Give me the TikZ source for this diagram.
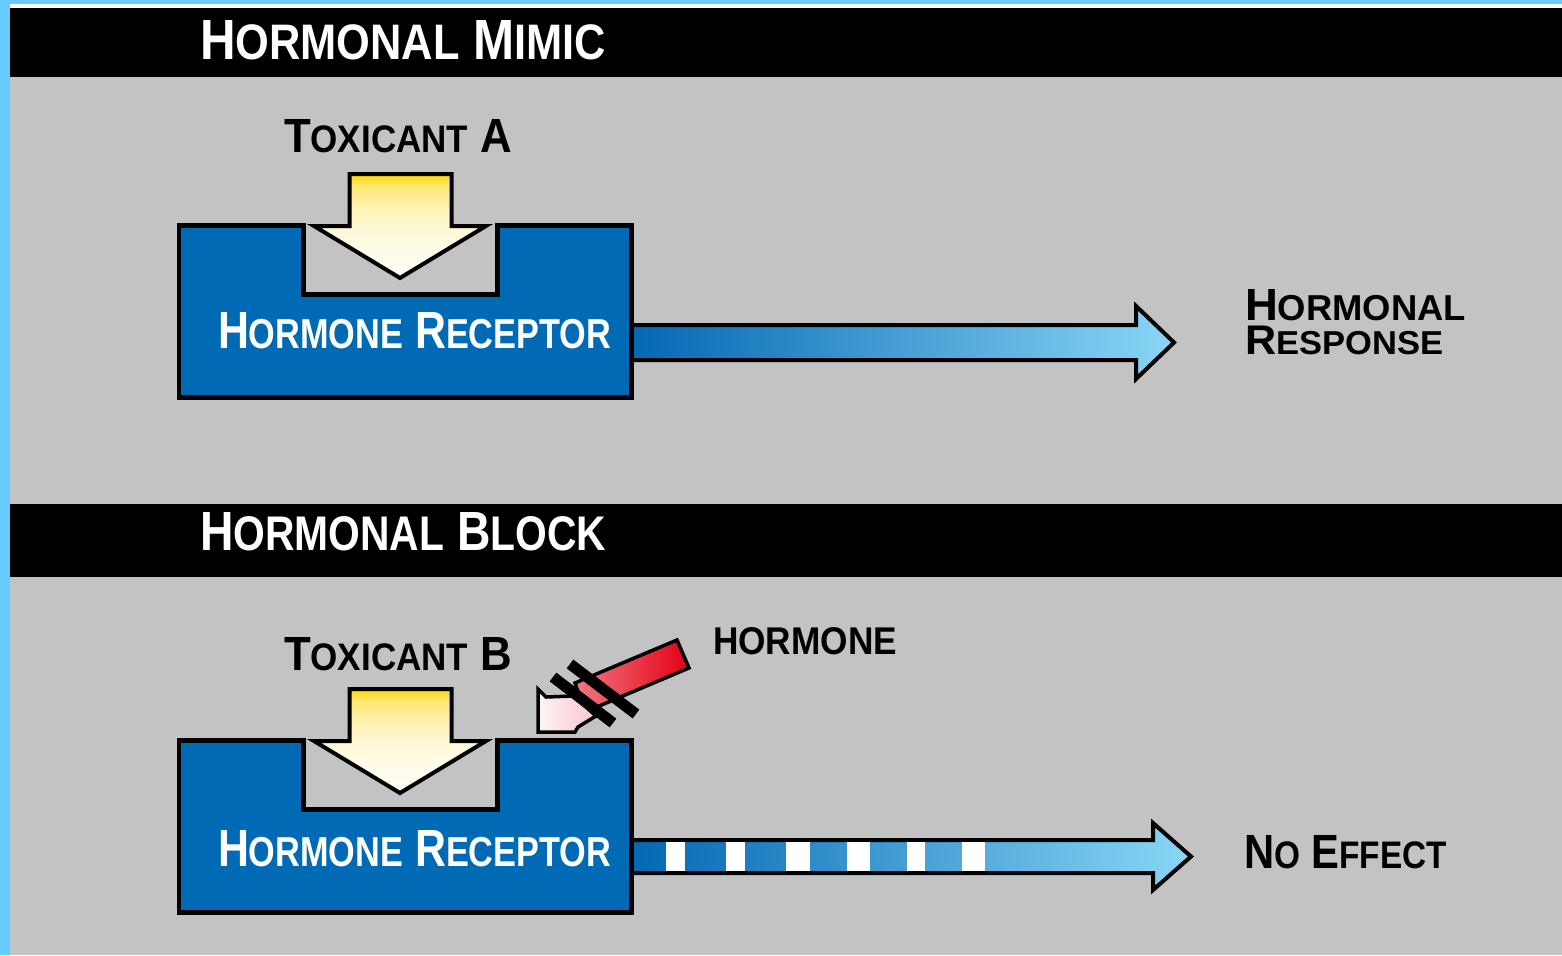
\documentclass[tikz,border=0pt]{standalone}
\usepackage{fontspec}
\setmainfont{Liberation Sans}
\usepackage{graphicx}
\definecolor{bggray}{RGB}{195,195,195}
\definecolor{skyb}{RGB}{102,204,255}
\definecolor{recblue}{RGB}{0,106,180}
\definecolor{arrdark}{RGB}{4,104,180}
\definecolor{arrlight}{RGB}{138,214,246}
\definecolor{gold}{RGB}{255,214,0}
\definecolor{yel1}{RGB}{255,231,112}
\definecolor{yel2}{RGB}{255,238,160}
\definecolor{yel3}{RGB}{255,244,192}
\definecolor{yel4}{RGB}{255,248,216}
\definecolor{yel5}{RGB}{255,251,232}
\definecolor{cream}{RGB}{255,254,246}
\definecolor{hred}{RGB}{228,0,20}
\definecolor{hpink}{RGB}{240,120,130}
\definecolor{lpink}{RGB}{248,196,204}
\definecolor{wpink}{RGB}{255,244,246}
\pgfdeclareverticalshading{yelshade}{100bp}{color(0bp)=(cream); color(25bp)=(cream);
  color(38.5bp)=(yel5); color(48bp)=(yel4); color(55.5bp)=(yel3); color(62.5bp)=(yel2);
  color(69.5bp)=(yel1); color(75bp)=(gold); color(100bp)=(gold)}
\newcommand\smcp[1]{{\fontsize{8}{9}\selectfont #1}}
\newcommand\smct[1]{{\fontsize{8.8}{9}\selectfont #1}}
\newcommand\fitlbl[3]{\resizebox{#1pt}{#2pt}{\fontsize{10}{12}\selectfont\bfseries #3}}
\tikzset{
  lbl/.style={inner sep=0pt, outer sep=0pt, anchor=south west},
  recbox/.style={fill=recblue, draw=black, line width=4.5pt, line join=miter},
  yelarrow/.style={draw=black, line width=4pt, line join=miter, shading=yelshade},
  bluearrow/.style={draw=black, line width=4pt, line join=miter, left color=arrdark, right color=arrlight},
  slash/.style={draw=black, line width=11pt},
  receptor/.pic={
    \path[recbox] (179,225.5) -- (303.5,225.5) -- (303.5,294.5) -- (497.5,294.5) -- (497.5,225.5)
      -- (631.5,225.5) -- (631.5,397.5) -- (179,397.5) -- cycle;
    \shadedraw[yelarrow] (349.5,174) -- (451.5,174) -- (451.5,226) -- (486,226) -- (400,278)
      -- (314,226) -- (349.5,226) -- cycle;
  }
}
\begin{document}
\begin{tikzpicture}[x=1pt,y=-1pt]
\useasboundingbox (0,0) rectangle (1562,955);
% background and frame
\fill[bggray] (0,0) rectangle (1562,955);
\fill[skyb] (0,0) rectangle (10,955);
\fill[skyb] (10,0) rectangle (1562,4);
\fill[white] (10,4) rectangle (1562,8);
\fill[black] (10,8) rectangle (1562,77);
\fill[black] (10,504) rectangle (1562,577);
% titles
\node[lbl, text=white] (title1) at (200,60) {\fitlbl{406}{39}{H\smct{ORMONAL} M\smct{IMIC}}};
\node[lbl, text=white] (title2) at (200,551) {\fitlbl{406}{38}{H\smct{ORMONAL} B\smct{LOCK}}};
% top panel
\pic (rA) at (0,0) {receptor};
\node[lbl] (toxA) at (284,153) {\fitlbl{228}{33}{T\smcp{OXICANT} A}};
\node[lbl, text=white] (recA) at (218,349) {\fitlbl{393}{36}{H\smcp{ORMONE} R\smcp{ECEPTOR}}};
\coordinate (arrA) at (634,342.5);
\shadedraw[bluearrow] (arrA) ++(0,-17.5) -- (1136,325) -- (1136,306) -- (1174,342.5) -- (1136,379)
  -- (1136,360) -- ++(-502,0);
\node[lbl, anchor=north west] (resp) at (1245,289.5) {\vbox{\hbox{\fitlbl{221}{31}{H\smcp{ORMONAL}}}\nointerlineskip\kern5.5pt\hbox{\fitlbl{198}{28.5}{R\smcp{ESPONSE}}}}};
% bottom panel
\pic (rB) at (0,515) {receptor};
\node[lbl] (toxB) at (284,671) {\fitlbl{228}{33}{T\smcp{OXICANT} B}};
\node[lbl, text=white] (recB) at (218,867) {\fitlbl{393}{36}{H\smcp{ORMONE} R\smcp{ECEPTOR}}};
\coordinate (arrB) at (634,856.5);
\shadedraw[bluearrow] (arrB) ++(0,-16.5) -- (1153,840) -- (1153,823) -- (1191,856.5) -- (1153,890)
  -- (1153,873) -- ++(-519,0);
\foreach \a/\b in {666/685, 726/745, 786/810, 847/870, 907/925, 962/985}
  \fill[white] (\a,842) rectangle (\b,871);
\node[lbl] (noeff) at (1244,869) {\fitlbl{203}{33}{N\smcp{O} E\smcp{FFECT}}};
\node[lbl] (horm) at (713,655) {\fitlbl{184}{27}{HORMONE}};
% blocked hormone arrow
\shadedraw[draw=black, line width=3.5pt, line join=miter, left color=hpink, right color=hred]
  (575,683) -- (677,640) -- (689,668) -- (585,712) -- cycle;
\shadedraw[draw=black, line width=3.5pt, line join=miter, left color=wpink, right color=lpink]
  (538,689) -- (546,697) -- (574,696) -- (596,716) -- (578,727) -- (575,732) -- (538,732) -- cycle;
\draw[slash] (553,677) -- (613,723);
\draw[slash] (570,664) -- (636,714);
\end{tikzpicture}
\end{document}
